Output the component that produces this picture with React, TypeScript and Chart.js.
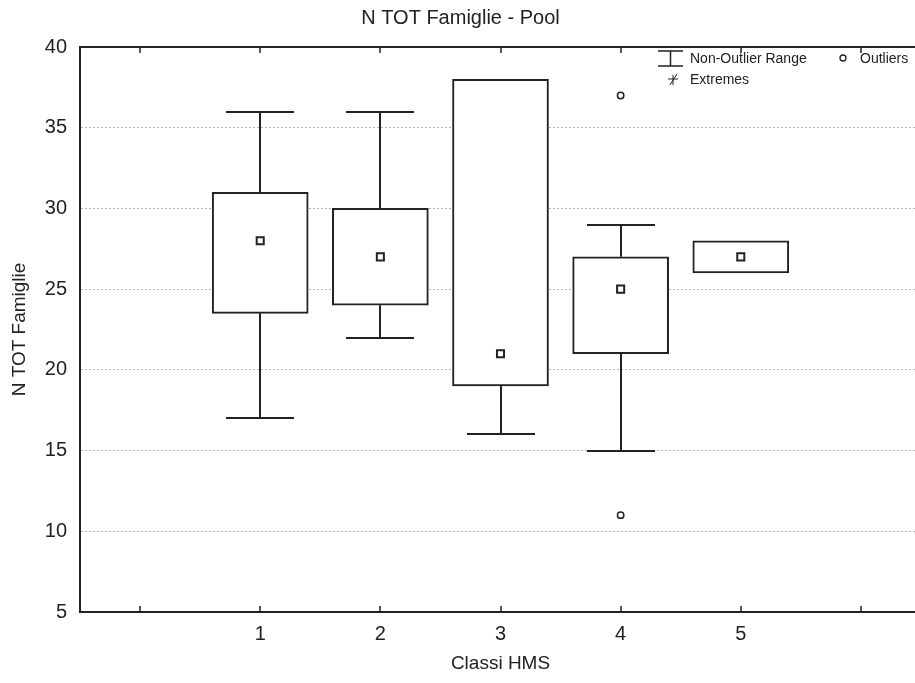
import React, { useEffect, useRef } from 'react';
import { Chart, registerables } from 'chart.js';

Chart.register(...registerables);

const titleText = 'N TOT Famiglie - Pool';
const xTitle = 'Classi HMS';
const yTitle = 'N TOT Famiglie';

const classes = [1, 2, 3, 4, 5];
const whiskerLow = [17, 22, 16, 15, 26];
const boxLow = [23.5, 24, 19, 21, 26];
const medians = [28, 27, 21, 25, 27];
const boxHigh = [31, 30, 38, 27, 28];
const whiskerHigh = [36, 36, 38, 29, 28];

const outlierClasses = [4, 4];
const outlierValues = [37, 11];

const xTickValues = [0, 1, 2, 3, 4, 5, 6];
const xLabels = ['1', '2', '3', '4', '5'];

const INK = '#222222';
const FONT = "'Liberation Sans', Arial, sans-serif";

const framePlugin = {
  id: 'frameWhiskers',
  beforeDatasetsDraw(chart: any) {
    const { ctx, chartArea: a, scales } = chart;
    const x = scales.x;
    const y = scales.y;
    ctx.save();
    ctx.strokeStyle = INK;
    ctx.lineWidth = 2;
    ctx.beginPath();
    ctx.moveTo(a.left, a.top);
    ctx.lineTo(a.right, a.top);
    ctx.stroke();

    ctx.lineWidth = 1.5;
    ctx.beginPath();
    x.ticks.forEach((t: any) => {
      const px = Math.round(x.getPixelForValue(t.value));
      if (px <= a.left + 2 || px >= a.right - 2) return;
      ctx.moveTo(px, a.bottom);
      ctx.lineTo(px, a.bottom - 6);
      ctx.moveTo(px, a.top);
      ctx.lineTo(px, a.top + 6);
    });
    ctx.stroke();

    const capHalf = 34;
    ctx.lineWidth = 2;
    ctx.beginPath();
    classes.forEach((c, i) => {
      const cx = Math.round(x.getPixelForValue(c));
      if (whiskerHigh[i] > boxHigh[i]) {
        const yt = Math.round(y.getPixelForValue(whiskerHigh[i]));
        ctx.moveTo(cx, y.getPixelForValue(boxHigh[i]));
        ctx.lineTo(cx, yt);
        ctx.moveTo(cx - capHalf, yt);
        ctx.lineTo(cx + capHalf, yt);
      }
      if (whiskerLow[i] < boxLow[i]) {
        const yb = Math.round(y.getPixelForValue(whiskerLow[i]));
        ctx.moveTo(cx, y.getPixelForValue(boxLow[i]));
        ctx.lineTo(cx, yb);
        ctx.moveTo(cx - capHalf, yb);
        ctx.lineTo(cx + capHalf, yb);
      }
    });
    ctx.stroke();
    ctx.restore();
  },
  afterDraw(chart: any) {
    const { ctx } = chart;
    ctx.save();
    ctx.strokeStyle = INK;
    ctx.fillStyle = INK;
    ctx.lineWidth = 1.5;
    // whisker symbol
    ctx.beginPath();
    ctx.moveTo(658, 51);
    ctx.lineTo(683, 51);
    ctx.moveTo(670.5, 51);
    ctx.lineTo(670.5, 66);
    ctx.moveTo(658, 66);
    ctx.lineTo(683, 66);
    ctx.stroke();
    // outlier symbol
    ctx.lineWidth = 1.3;
    ctx.beginPath();
    ctx.arc(843, 58, 3, 0, Math.PI * 2);
    ctx.stroke();
    // extremes symbol
    ctx.lineWidth = 1;
    ctx.beginPath();
    ctx.moveTo(668, 79);
    ctx.lineTo(678, 79);
    ctx.moveTo(673, 75);
    ctx.lineTo(673, 85);
    ctx.moveTo(670, 85);
    ctx.lineTo(677, 74);
    ctx.stroke();

    ctx.font = `14px ${FONT}`;
    ctx.textBaseline = 'middle';
    ctx.textAlign = 'left';
    ctx.fillText('Non-Outlier Range', 690, 59);
    ctx.fillText('Outliers', 860, 59);
    ctx.fillText('Extremes', 690, 80);
    ctx.restore();
  },
};

export default function App() {
  const ref = useRef<HTMLCanvasElement | null>(null);

  useEffect(() => {
    if (!ref.current) return;
    const chart = new Chart(ref.current, {
      type: 'bar',
      data: {
        datasets: [
          {
            type: 'bar',
            label: 'Box',
            data: classes.map((c, i) => ({ x: c, y: [boxLow[i], boxHigh[i]] })) as any,
            backgroundColor: '#ffffff',
            borderColor: INK,
            borderWidth: 2,
            borderSkipped: false,
            barThickness: 96,
            order: 3,
          } as any,
          {
            type: 'scatter',
            label: 'Median',
            data: classes.map((c, i) => ({ x: c, y: medians[i] })),
            pointStyle: 'rect',
            pointRadius: 5,
            borderWidth: 2,
            borderColor: INK,
            backgroundColor: '#ffffff',
            order: 2,
          } as any,
          {
            type: 'scatter',
            label: 'Outliers',
            data: outlierClasses.map((c, i) => ({ x: c, y: outlierValues[i] })),
            pointStyle: 'circle',
            pointRadius: 3.2,
            borderWidth: 1.5,
            borderColor: INK,
            backgroundColor: '#ffffff',
            order: 1,
          } as any,
        ],
      },
      options: {
        responsive: false,
        animation: false,
        layout: { padding: { top: 0, left: 0, right: 14, bottom: 0 } },
        plugins: {
          legend: { display: false },
          tooltip: { enabled: false },
          title: {
            display: true,
            text: titleText,
            color: INK,
            font: { family: FONT, size: 20, weight: 'normal' },
            padding: { top: 6, bottom: 17 },
          },
        },
        scales: {
          x: {
            type: 'linear',
            min: -0.5,
            max: 6.5,
            offset: false,
            afterFit(scale: any) {
              scale.height = 71;
            },
            afterBuildTicks(scale: any) {
              scale.ticks = xTickValues.map((v) => ({ value: v }));
            },
            ticks: {
              autoSkip: false,
              maxRotation: 0,
              padding: 10,
              color: INK,
              font: { family: FONT, size: 20 },
              callback: (v: any) => {
                const idx = classes.indexOf(Number(v));
                return idx >= 0 ? xLabels[idx] : '';
              },
            },
            grid: { display: false, drawTicks: false },
            border: { display: true, color: INK, width: 2 },
            title: {
              display: true,
              text: xTitle,
              color: INK,
              font: { family: FONT, size: 19 },
              padding: { top: 0, bottom: 8 },
            },
          },
          y: {
            type: 'linear',
            min: 5,
            max: 40,
            afterFit(scale: any) {
              scale.width = 80;
            },
            ticks: {
              stepSize: 5,
              padding: 13,
              color: INK,
              font: { family: FONT, size: 20 },
            },
            grid: {
              drawTicks: false,
              lineWidth: 1,
              color: (c: any) =>
                c.tick && (c.tick.value === 5 || c.tick.value === 40) ? 'rgba(0,0,0,0)' : '#b5b5b5',
            },
            border: { display: true, color: INK, width: 2, dash: [2, 2] },
            title: {
              display: true,
              text: yTitle,
              color: INK,
              font: { family: FONT, size: 19 },
              padding: { top: 8, bottom: 0 },
            },
          },
        },
      } as any,
      plugins: [framePlugin],
    });
    return () => chart.destroy();
  }, []);

  return (
    <div
      style={{
        position: 'fixed',
        left: 0,
        top: 0,
        width: 915,
        height: 683,
        overflow: 'hidden',
        background: '#ffffff',
      }}
    >
      <canvas ref={ref} width={935} height={683} style={{ display: 'block' }} />
    </div>
  );
}
